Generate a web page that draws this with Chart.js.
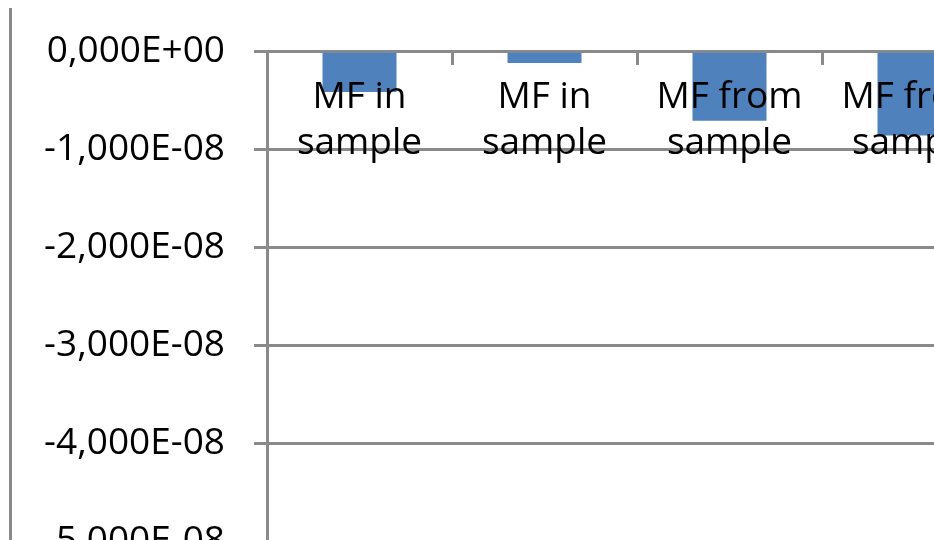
<!DOCTYPE html>
<html lang="en">
<head>
    <meta charset="UTF-8" />
    <title>MF chart</title>
    <script src="https://cdn.jsdelivr.net/npm/chart.js"></script>
    <style>
        html, body { margin: 0; padding: 0; width: 934px; height: 540px; overflow: hidden; background: #fff; }
        #frame { position: absolute; left: 9px; top: 8px; width: 1200px; height: 800px; border-left: 3px solid #8a8a8a; }
        #chart { position: absolute; left: 0; top: 0; }
    </style>
</head>
<body>
    <div id="frame"></div>
    <canvas id="chart" width="1040" height="720"></canvas>

    <script>
        // categories (two-line labels) and series values
        const categories = [
            ['MF in', 'sample'],
            ['MF in', 'sample'],
            ['MF from', 'sample'],
            ['MF from', 'sample']
        ];
        const values = [-4.15e-9, -1.2e-9, -7.1e-9, -8.6e-9];
        const yMin = -6e-8;
        const yMax = 0;
        const yStep = 1e-8;

        const gray = '#8a8a8a';

        // Excel style: 0,000E+00
        function sciLabel(v) {
            if (Math.abs(v) < 1e-20) v = 0;
            let parts = v.toExponential(3).split('e');
            let exp = parts[1];
            const sign = exp[0] === '-' ? '-' : '+';
            exp = exp.replace(/[+-]/, '').padStart(2, '0');
            return parts[0].replace('.', ',') + 'E' + sign + exp;
        }

        const ctx = document.getElementById('chart').getContext('2d');
        new Chart(ctx, {
            type: 'bar',
            data: {
                labels: categories,
                datasets: [{
                    data: values,
                    backgroundColor: '#4f81bd',
                    borderWidth: 0,
                    barPercentage: 0.4,
                    categoryPercentage: 1
                }]
            },
            options: {
                responsive: false,
                animation: false,
                layout: { padding: { left: 0, top: 46, right: 33, bottom: 80 } },
                plugins: { legend: { display: false }, tooltip: { enabled: false } },
                scales: {
                    y: {
                        min: yMin,
                        max: yMax,
                        afterFit: s => { s.width = 267; },
                        ticks: {
                            stepSize: yStep,
                            padding: 29,
                            color: '#000',
                            font: { family: 'Open Sans', size: 37 },
                            callback: v => sciLabel(v)
                        },
                        grid: { color: gray, lineWidth: 3, tickLength: 13 },
                        border: { color: gray, width: 3 }
                    },
                    x: {
                        position: { y: 0 },
                        ticks: {
                            z: 1,
                            padding: 11,
                            color: '#000',
                            maxRotation: 0,
                            autoSkip: false,
                            font: { family: 'Open Sans', size: 37, lineHeight: '46px' }
                        },
                        grid: { color: gray, lineWidth: 3, tickLength: 12, drawOnChartArea: false },
                        border: { color: gray, width: 3 }
                    }
                }
            }
        });
    </script>
</body>
</html>
